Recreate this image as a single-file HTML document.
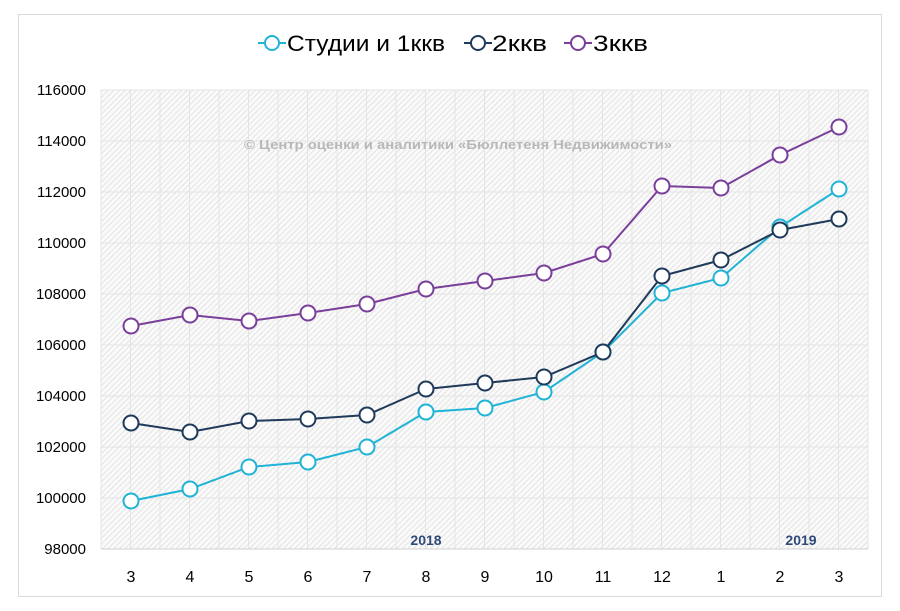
<!DOCTYPE html><html><head><meta charset="utf-8"><style>body{margin:0;background:#fff}svg{display:block;font-family:"Liberation Sans",sans-serif}</style></head><body>
<svg width="900" height="611" viewBox="0 0 900 611">
<defs><pattern id="h" width="4" height="4" patternUnits="userSpaceOnUse" patternTransform="rotate(45)"><rect width="4" height="4" fill="#fafafa"/><line x1="0" y1="0" x2="0" y2="4" stroke="#d8d8d8" stroke-width="1.3"/></pattern></defs>
<rect x="18.5" y="14.5" width="863" height="582" fill="#fff" stroke="#d9d9d9"/>
<rect x="101" y="90" width="767" height="459" fill="url(#h)"/>
<g stroke="#e4e4e4" stroke-width="1">
<line x1="101" y1="90" x2="868" y2="90"/><line x1="101" y1="141" x2="868" y2="141"/><line x1="101" y1="192" x2="868" y2="192"/><line x1="101" y1="243" x2="868" y2="243"/><line x1="101" y1="294" x2="868" y2="294"/><line x1="101" y1="345" x2="868" y2="345"/><line x1="101" y1="396" x2="868" y2="396"/><line x1="101" y1="447" x2="868" y2="447"/><line x1="101" y1="498" x2="868" y2="498"/>
</g>
<g stroke="#e4e4e4" id="vg"></g>
<line x1="101" y1="549" x2="868" y2="549" stroke="#d0d0d0"/>
<g font-size="15" fill="#000" text-anchor="end">
<text x="86" y="95">116000</text><text x="86" y="146">114000</text><text x="86" y="197">112000</text><text x="86" y="248">110000</text><text x="86" y="299">108000</text><text x="86" y="350">106000</text><text x="86" y="401">104000</text><text x="86" y="452">102000</text><text x="86" y="503">100000</text><text x="86" y="554">98000</text>
</g>
<g font-size="16" fill="#000" text-anchor="middle">
<text x="131" y="582">3</text><text x="190" y="582">4</text><text x="249" y="582">5</text><text x="308" y="582">6</text><text x="367" y="582">7</text><text x="426" y="582">8</text><text x="485" y="582">9</text><text x="544" y="582">10</text><text x="603" y="582">11</text><text x="662" y="582">12</text><text x="721" y="582">1</text><text x="780" y="582">2</text><text x="839" y="582">3</text>
</g>
<text x="426" y="545" font-size="14" font-weight="bold" fill="#2f4a7a" text-anchor="middle">2018</text>
<text x="801" y="545" font-size="14" font-weight="bold" fill="#2f4a7a" text-anchor="middle">2019</text>
<text x="244" y="149" font-size="13" font-weight="bold" fill="#b8b8b8" textLength="428" lengthAdjust="spacingAndGlyphs">© Центр оценки и аналитики «Бюллетеня Недвижимости»</text>
<g font-size="22" fill="#000">
<line x1="258" y1="43" x2="286" y2="43" stroke="#1fb3d6" stroke-width="2"/><circle cx="272" cy="43" r="7" fill="#fff" stroke="#1fb3d6" stroke-width="2"/><text x="287" y="51" textLength="158" lengthAdjust="spacingAndGlyphs">Студии и 1ккв</text>
<line x1="464" y1="43" x2="492" y2="43" stroke="#1f3a5a" stroke-width="2"/><circle cx="478" cy="43" r="7" fill="#fff" stroke="#1f3a5a" stroke-width="2"/><text x="492" y="51" textLength="55" lengthAdjust="spacingAndGlyphs">2ккв</text>
<line x1="564" y1="43" x2="592" y2="43" stroke="#7a3f9a" stroke-width="2"/><circle cx="578" cy="43" r="7" fill="#fff" stroke="#7a3f9a" stroke-width="2"/><text x="593" y="51" textLength="55" lengthAdjust="spacingAndGlyphs">3ккв</text>
</g>
<g id="series"></g>
<script>
var vg=document.getElementById('vg'),ns='http://www.w3.org/2000/svg';
for(var i=0;i<=26;i++){var x=101+i*29.5;var l=document.createElementNS(ns,'line');l.setAttribute('x1',x);l.setAttribute('x2',x);l.setAttribute('y1',90);l.setAttribute('y2',549);vg.appendChild(l);}
var xs=[];for(var i=0;i<13;i++)xs.push(131+i*59);
var S=[["#7a3f9a",[326,315,321,313,304,289,281,273,254,186,188,155,127]],
["#1fb3d6",[501,489,467,462,447,412,408,392,352,293,278,227,189]],
["#1f3a5a",[423,432,421,419,415,389,383,377,352,276,260,230,219]]];
var g=document.getElementById('series');
S.forEach(function(s){var p=document.createElementNS(ns,'polyline');p.setAttribute('points',xs.map(function(x,i){return x+','+s[1][i]}).join(' '));p.setAttribute('fill','none');p.setAttribute('stroke',s[0]);p.setAttribute('stroke-width','2');g.appendChild(p);
s[1].forEach(function(y,i){var c=document.createElementNS(ns,'circle');c.setAttribute('cx',xs[i]);c.setAttribute('cy',y);c.setAttribute('r',7.5);c.setAttribute('fill','#fff');c.setAttribute('stroke',s[0]);c.setAttribute('stroke-width','2');g.appendChild(c);});});
</script>
</svg></body></html>
